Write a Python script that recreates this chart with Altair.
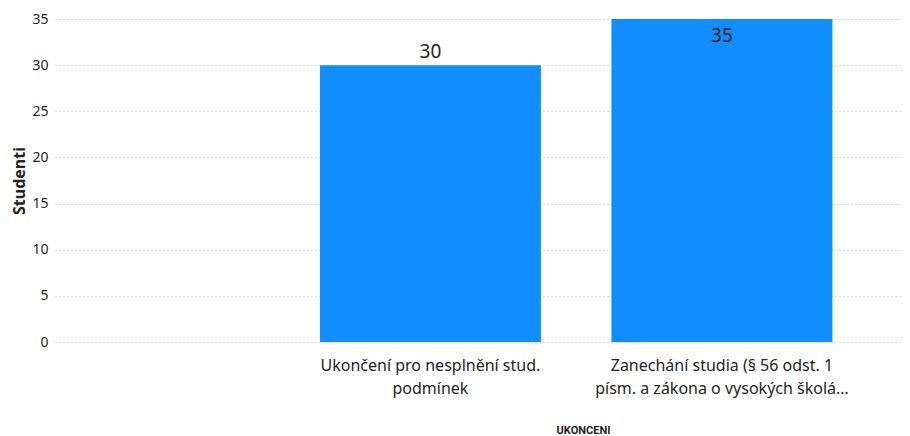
import altair as alt
import pandas as pd

categories = [
    "Ukončení pro nesplnění stud.|podmínek",
    "Zanechání studia (§ 56 odst. 1|písm. a zákona o vysokých školá…",
]
values = [30, 35]

df = pd.DataFrame({"UKONCENI": categories, "Studenti": values})

FONT = "Noto Sans"
BAR = "#118DFF"
TXT = "#252423"

x_enc = alt.X(
    "UKONCENI:N",
    sort=categories,
    scale=alt.Scale(paddingInner=0.2419, paddingOuter=0.5738, align=0.792),
    axis=alt.Axis(
        title="UKONCENI",
        labelAngle=0,
        labelExpr="split(datum.label, '|')",
        labelFontSize=16,
        labelLineHeight=23,
        labelColor=TXT,
        labelFont=FONT,
        labelPadding=15,
        labelLimit=300,
        ticks=False,
        domain=False,
        grid=False,
        titleFont="Roboto",
        titleFontSize=11,
        titleFontWeight="bold",
        titleColor=TXT,
        titleX=528,
        titleY=91,
        titleBaseline="alphabetic",
        titleAlign="center",
    ),
)
y_enc = alt.Y(
    "Studenti:Q",
    scale=alt.Scale(domain=[0, 35], nice=False),
    axis=alt.Axis(
        title="Studenti",
        values=[0, 5, 10, 15, 20, 25, 30, 35],
        labelFontSize=14,
        labelColor=TXT,
        labelFont=FONT,
        labelPadding=7,
        ticks=False,
        domain=False,
        grid=True,
        gridColor="#b8b8b8",
        gridDash=[1, 3],
        gridWidth=1,
        titleFont=FONT,
        titleFontSize=16,
        titleFontWeight="bold",
        titleColor=TXT,
        titlePadding=4,
    ),
)

base = alt.Chart(df).encode(x=x_enc, y=y_enc)
bars = base.mark_bar(color=BAR)
above = base.transform_filter("datum.Studenti < 33").mark_text(
    baseline="bottom", dy=-3, fontSize=19, font=FONT, color=TXT
).encode(text="Studenti:Q")
inside = base.transform_filter("datum.Studenti >= 33").mark_text(
    baseline="top", dy=8, fontSize=19, font=FONT, color=TXT
).encode(text="Studenti:Q")

chart = (
    alt.layer(bars, above, inside)
    .properties(
        width=847,
        height=323,
        background="white",
        autosize=alt.AutoSizeParams(type="none"),
        padding={"left": 47, "top": 11, "right": 0, "bottom": 100},
    )
    .configure_view(stroke=None, strokeWidth=0)
    .configure_axis(domain=False, ticks=False)
    .configure_axisX(grid=False)
)

chart.save("out.html", embed_options={"renderer": "svg", "actions": False})
